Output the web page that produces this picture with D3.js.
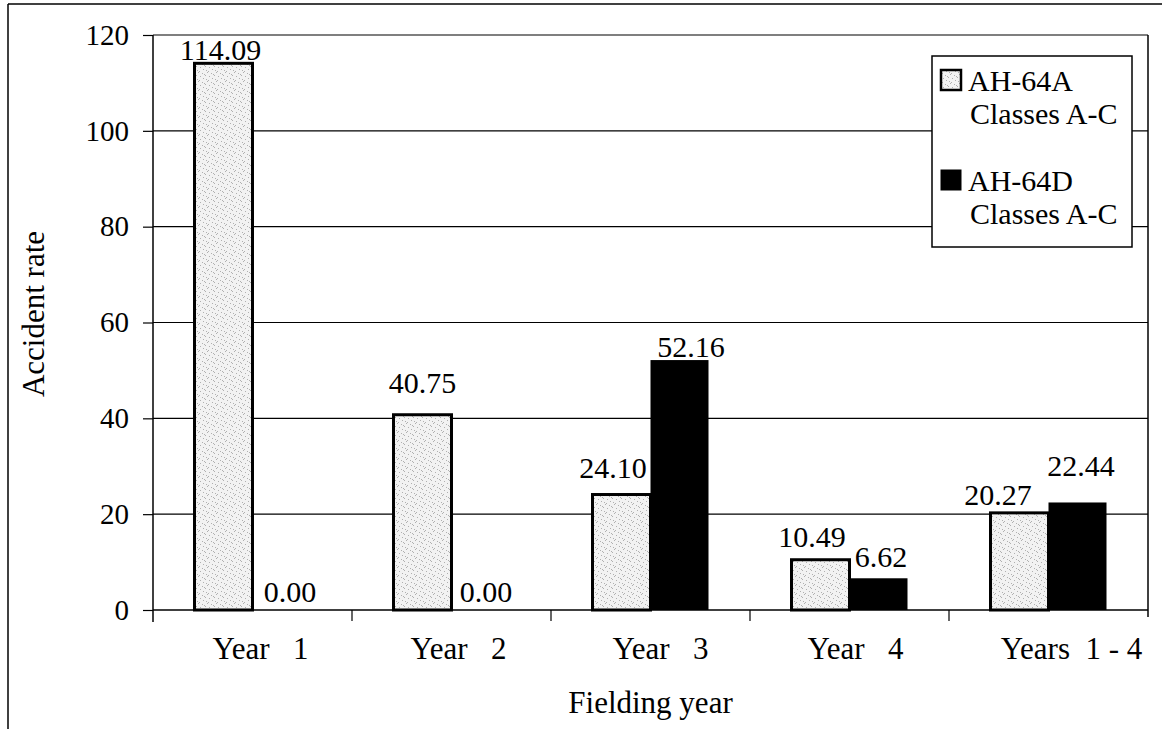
<!DOCTYPE html>
<html>
<head>
<meta charset="utf-8">
<script src="https://cdn.jsdelivr.net/npm/d3@7"></script>
<style>
	html, body { margin: 0; padding: 0; background: #fff; }
	svg { display: block; font-family: 'Liberation Serif', 'Times New Roman', serif; }
</style>
</head>
<body>
<div id="chart"></div>
<script>
// chart data
var categories = ['Year   1', 'Year   2', 'Year   3', 'Year   4', 'Years  1 - 4'];
var seriesNames = ['AH-64A', 'AH-64D'];
var seriesSub = 'Classes A-C';
var valuesA = [114.09, 40.75, 24.10, 10.49, 20.27];
var valuesD = [0.00, 0.00, 52.16, 6.62, 22.44];
var yTicks = [0, 20, 40, 60, 80, 100, 120];

// hand placed label offsets (dx, dy) as in the original
var nudgeA = [[-3, 1], [0, -18], [-8.5, -13], [-8.5, -9], [-21.5, -4]];
var nudgeD = [[8.5, -4], [5.5, -4], [11.5, 1], [2.5, -7], [3.5, -22]];
var xLabelNudge = [8, 7, 10, 6, 23];

( function () {
	'use strict';

	var width = 1162, height = 729;
	var plotLeft = 153, plotRight = 1148, plotTop = 35, plotBottom = 610;

	var svg = d3.select('#chart')
		.append('svg')
		.attr('width', width)
		.attr('height', height);

	// stipple fill for the AH-64A bars
	var defs = svg.append('defs');
	var pat = defs.append('pattern')
		.attr('id', 'stipple')
		.attr('patternUnits', 'userSpaceOnUse')
		.attr('width', 9)
		.attr('height', 9);
	pat.append('rect').attr('width', 9).attr('height', 9).attr('fill', '#f2f2f2');
	[[0, 0], [4, 1], [7, 3], [2, 4], [5, 6], [8, 7], [1, 8], [6, 2]].forEach(function(p) {
		pat.append('rect')
			.attr('x', p[0]).attr('y', p[1])
			.attr('width', 1).attr('height', 1)
			.attr('fill', '#b0b0b0');
	});

	// outer frame (cropped on right and bottom)
	svg.append('line')
		.attr('x1', 8).attr('y1', 4).attr('x2', width).attr('y2', 4)
		.style('stroke', '#000').style('stroke-width', 1.5);
	svg.append('line')
		.attr('x1', 8).attr('y1', 4).attr('x2', 8).attr('y2', height)
		.style('stroke', '#000').style('stroke-width', 1.5);

	var x = d3.scaleBand().domain(categories).range([plotLeft, plotRight]);
	var x1 = d3.scaleBand().domain([0, 1]).range([41.5, 157.5]);
	var y = d3.scaleLinear().domain([0, 120]).range([plotBottom, plotTop]);

	// gridlines
	svg.append('g')
		.selectAll('line')
		.data(yTicks.filter(function(d) { return d > 0; }))
		.enter()
		.append('line')
		.attr('x1', plotLeft).attr('x2', plotRight)
		.attr('y1', function(d) { return y(d); })
		.attr('y2', function(d) { return y(d); })
		.style('stroke', '#000')
		.style('stroke-width', 1.2);

	// right border of plot
	svg.append('line')
		.attr('x1', plotRight).attr('x2', plotRight)
		.attr('y1', plotTop).attr('y2', plotBottom + 7)
		.style('stroke', '#000').style('stroke-width', 1.5);

	// y axis
	var yAxis = svg.append('g')
		.attr('transform', 'translate(' + plotLeft + ',0)')
		.call(d3.axisLeft(y)
			.tickValues(yTicks)
			.tickSize(10)
			.tickPadding(14)
			.tickFormat(d3.format('d')));
	yAxis.select('.domain').remove();
	yAxis.selectAll('line').style('stroke', '#000').style('stroke-width', 1.2);
	yAxis.selectAll('text')
		.style('font-family', "'Liberation Serif', 'Times New Roman', serif")
		.style('font-size', '29px')
		.style('fill', '#000');
	svg.append('line')
		.attr('x1', plotLeft).attr('x2', plotLeft)
		.attr('y1', plotTop).attr('y2', plotBottom + 12)
		.style('stroke', '#000').style('stroke-width', 1.5);

	// bars
	var groups = svg.append('g')
		.selectAll('g')
		.data(categories)
		.enter()
		.append('g')
		.attr('transform', function(d) { return 'translate(' + x(d) + ',0)'; });

	groups.append('rect')
		.attr('x', x1(0))
		.attr('width', x1.bandwidth())
		.attr('y', function(d, i) { return y(valuesA[i]); })
		.attr('height', function(d, i) { return y(0) - y(valuesA[i]); })
		.style('fill', 'url(#stipple)')
		.style('stroke', '#000')
		.style('stroke-width', 3);

	groups.append('rect')
		.attr('x', x1(1))
		.attr('width', x1.bandwidth())
		.attr('y', function(d, i) { return y(valuesD[i]); })
		.attr('height', function(d, i) { return y(0) - y(valuesD[i]); })
		.style('fill', '#000');

	// baseline and category ticks
	svg.append('line')
		.attr('x1', plotLeft).attr('x2', plotRight)
		.attr('y1', y(0)).attr('y2', y(0))
		.style('stroke', '#000').style('stroke-width', 1.5);
	svg.append('g')
		.selectAll('line')
		.data(categories.slice(1))
		.enter()
		.append('line')
		.attr('x1', function(d) { return x(d); })
		.attr('x2', function(d) { return x(d); })
		.attr('y1', y(0)).attr('y2', y(0) + 11)
		.style('stroke', '#000').style('stroke-width', 1.2);

	var xAxis = svg.append('g')
		.attr('transform', 'translate(0,' + y(0) + ')')
		.call(d3.axisBottom(x).tickSize(0).tickPadding(27));
	xAxis.select('.domain').remove();
	xAxis.selectAll('text')
		.attr('dx', function(d, i) { return xLabelNudge[i]; })
		.style('white-space', 'pre')
		.style('font-family', "'Liberation Serif', 'Times New Roman', serif")
		.style('font-size', '31px')
		.style('fill', '#000');

	// data labels
	function fmt(v) { return v.toFixed(2); }
	groups.append('text')
		.attr('x', function(d, i) { return x1(0) + x1.bandwidth() / 2 + nudgeA[i][0]; })
		.attr('y', function(d, i) { return y(valuesA[i]) - 4 + nudgeA[i][1]; })
		.attr('text-anchor', 'middle')
		.style('font-size', '30px')
		.text(function(d, i) { return fmt(valuesA[i]); });
	groups.append('text')
		.attr('x', function(d, i) { return x1(1) + x1.bandwidth() / 2 + nudgeD[i][0]; })
		.attr('y', function(d, i) { return y(valuesD[i]) - 4 + nudgeD[i][1]; })
		.attr('text-anchor', 'middle')
		.style('font-size', '30px')
		.text(function(d, i) { return fmt(valuesD[i]); });

	// axis titles
	svg.append('text')
		.attr('transform', 'translate(44,314) rotate(-90)')
		.attr('text-anchor', 'middle')
		.style('font-size', '31px')
		.text('Accident rate');
	svg.append('text')
		.attr('x', (plotLeft + plotRight) / 2)
		.attr('y', 713)
		.attr('text-anchor', 'middle')
		.style('font-size', '31px')
		.text('Fielding year');

	// legend
	var legend = svg.append('g').attr('transform', 'translate(932,56)');
	legend.append('rect')
		.attr('width', 200).attr('height', 191)
		.style('fill', '#fff')
		.style('stroke', '#000')
		.style('stroke-width', 1.5);
	var items = legend.selectAll('g.item')
		.data(seriesNames)
		.enter()
		.append('g')
		.attr('class', 'item')
		.attr('transform', function(d, i) { return 'translate(0,' + (i * 100) + ')'; });
	items.append('rect')
		.attr('x', 9).attr('y', 14)
		.attr('width', 20).attr('height', 20)
		.style('fill', function(d, i) { return i === 0 ? 'url(#stipple)' : '#000'; })
		.style('stroke', '#000')
		.style('stroke-width', function(d, i) { return i === 0 ? 2.5 : 1; });
	items.append('text')
		.attr('x', 36).attr('y', 35)
		.style('font-size', '30px')
		.text(function(d) { return d; });
	items.append('text')
		.attr('x', 38).attr('y', 68)
		.style('font-size', '30px')
		.text(seriesSub);
}() );
</script>
</body>
</html>
